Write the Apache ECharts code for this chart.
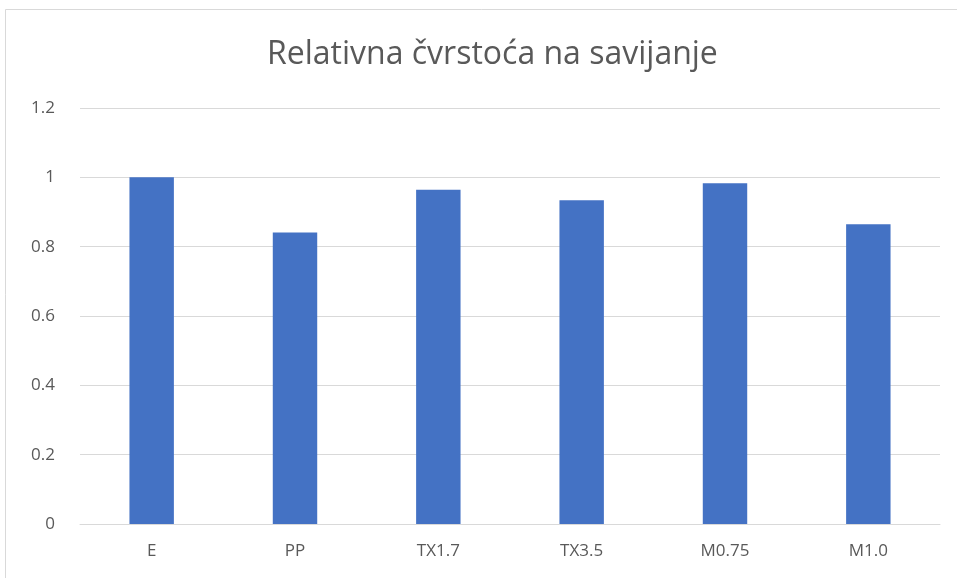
<!DOCTYPE html>
<html><head><meta charset="utf-8">
<script src="https://cdn.jsdelivr.net/npm/echarts@6/dist/echarts.min.js"></script>
<style>html,body{margin:0;padding:0;background:#fff}#c{width:957px;height:578px}</style>
</head><body><div id="c"></div>
<script>
const categories = ['E','PP','TX1.7','TX3.5','M0.75','M1.0'];
const values = [1.0, 0.841, 0.964, 0.934, 0.983, 0.865];
const yTicks = [0, 0.2, 0.4, 0.6, 0.8, 1, 1.2];
const titleText = 'Relativna čvrstoća na savijanje';

const chart = echarts.init(document.getElementById('c'));
chart.setOption({
  animation: false,
  backgroundColor: '#fff',
  graphic: [{type:'rect', shape:{x:5.5,y:9.5,width:1200,height:1200}, style:{fill:'none', stroke:'#d9d9d9', lineWidth:1}}],
  title: {text: titleText, left: 262, top: 34, textStyle:{fontFamily:'Open Sans', fontSize:32, fontWeight:'normal', color:'#595959'}},
  grid: {left: 80, right: 17, top: 108, bottom: 54, containLabel: false},
  xAxis: {type:'category', data: categories,
    axisLine:{lineStyle:{color:'#d9d9d9'}}, axisTick:{show:false},
    axisLabel:{fontFamily:'Open Sans', fontSize:17, color:'#595959', margin:19}},
  yAxis: {type:'value', min:0, max:1.2, interval:0.2,
    axisLine:{show:false}, axisTick:{show:false},
    splitLine:{lineStyle:{color:'#d9d9d9'}},
    axisLabel:{fontFamily:'Open Sans', fontSize:17, color:'#595959', margin:25,
      formatter: v => { const t = yTicks.find(x => Math.abs(x - v) < 1e-9); return t === undefined ? '' : String(t); }}},
  series: [{type:'bar', data: values, barWidth:'31%', itemStyle:{color:'#4472c4'}}]
});
</script></body></html>
